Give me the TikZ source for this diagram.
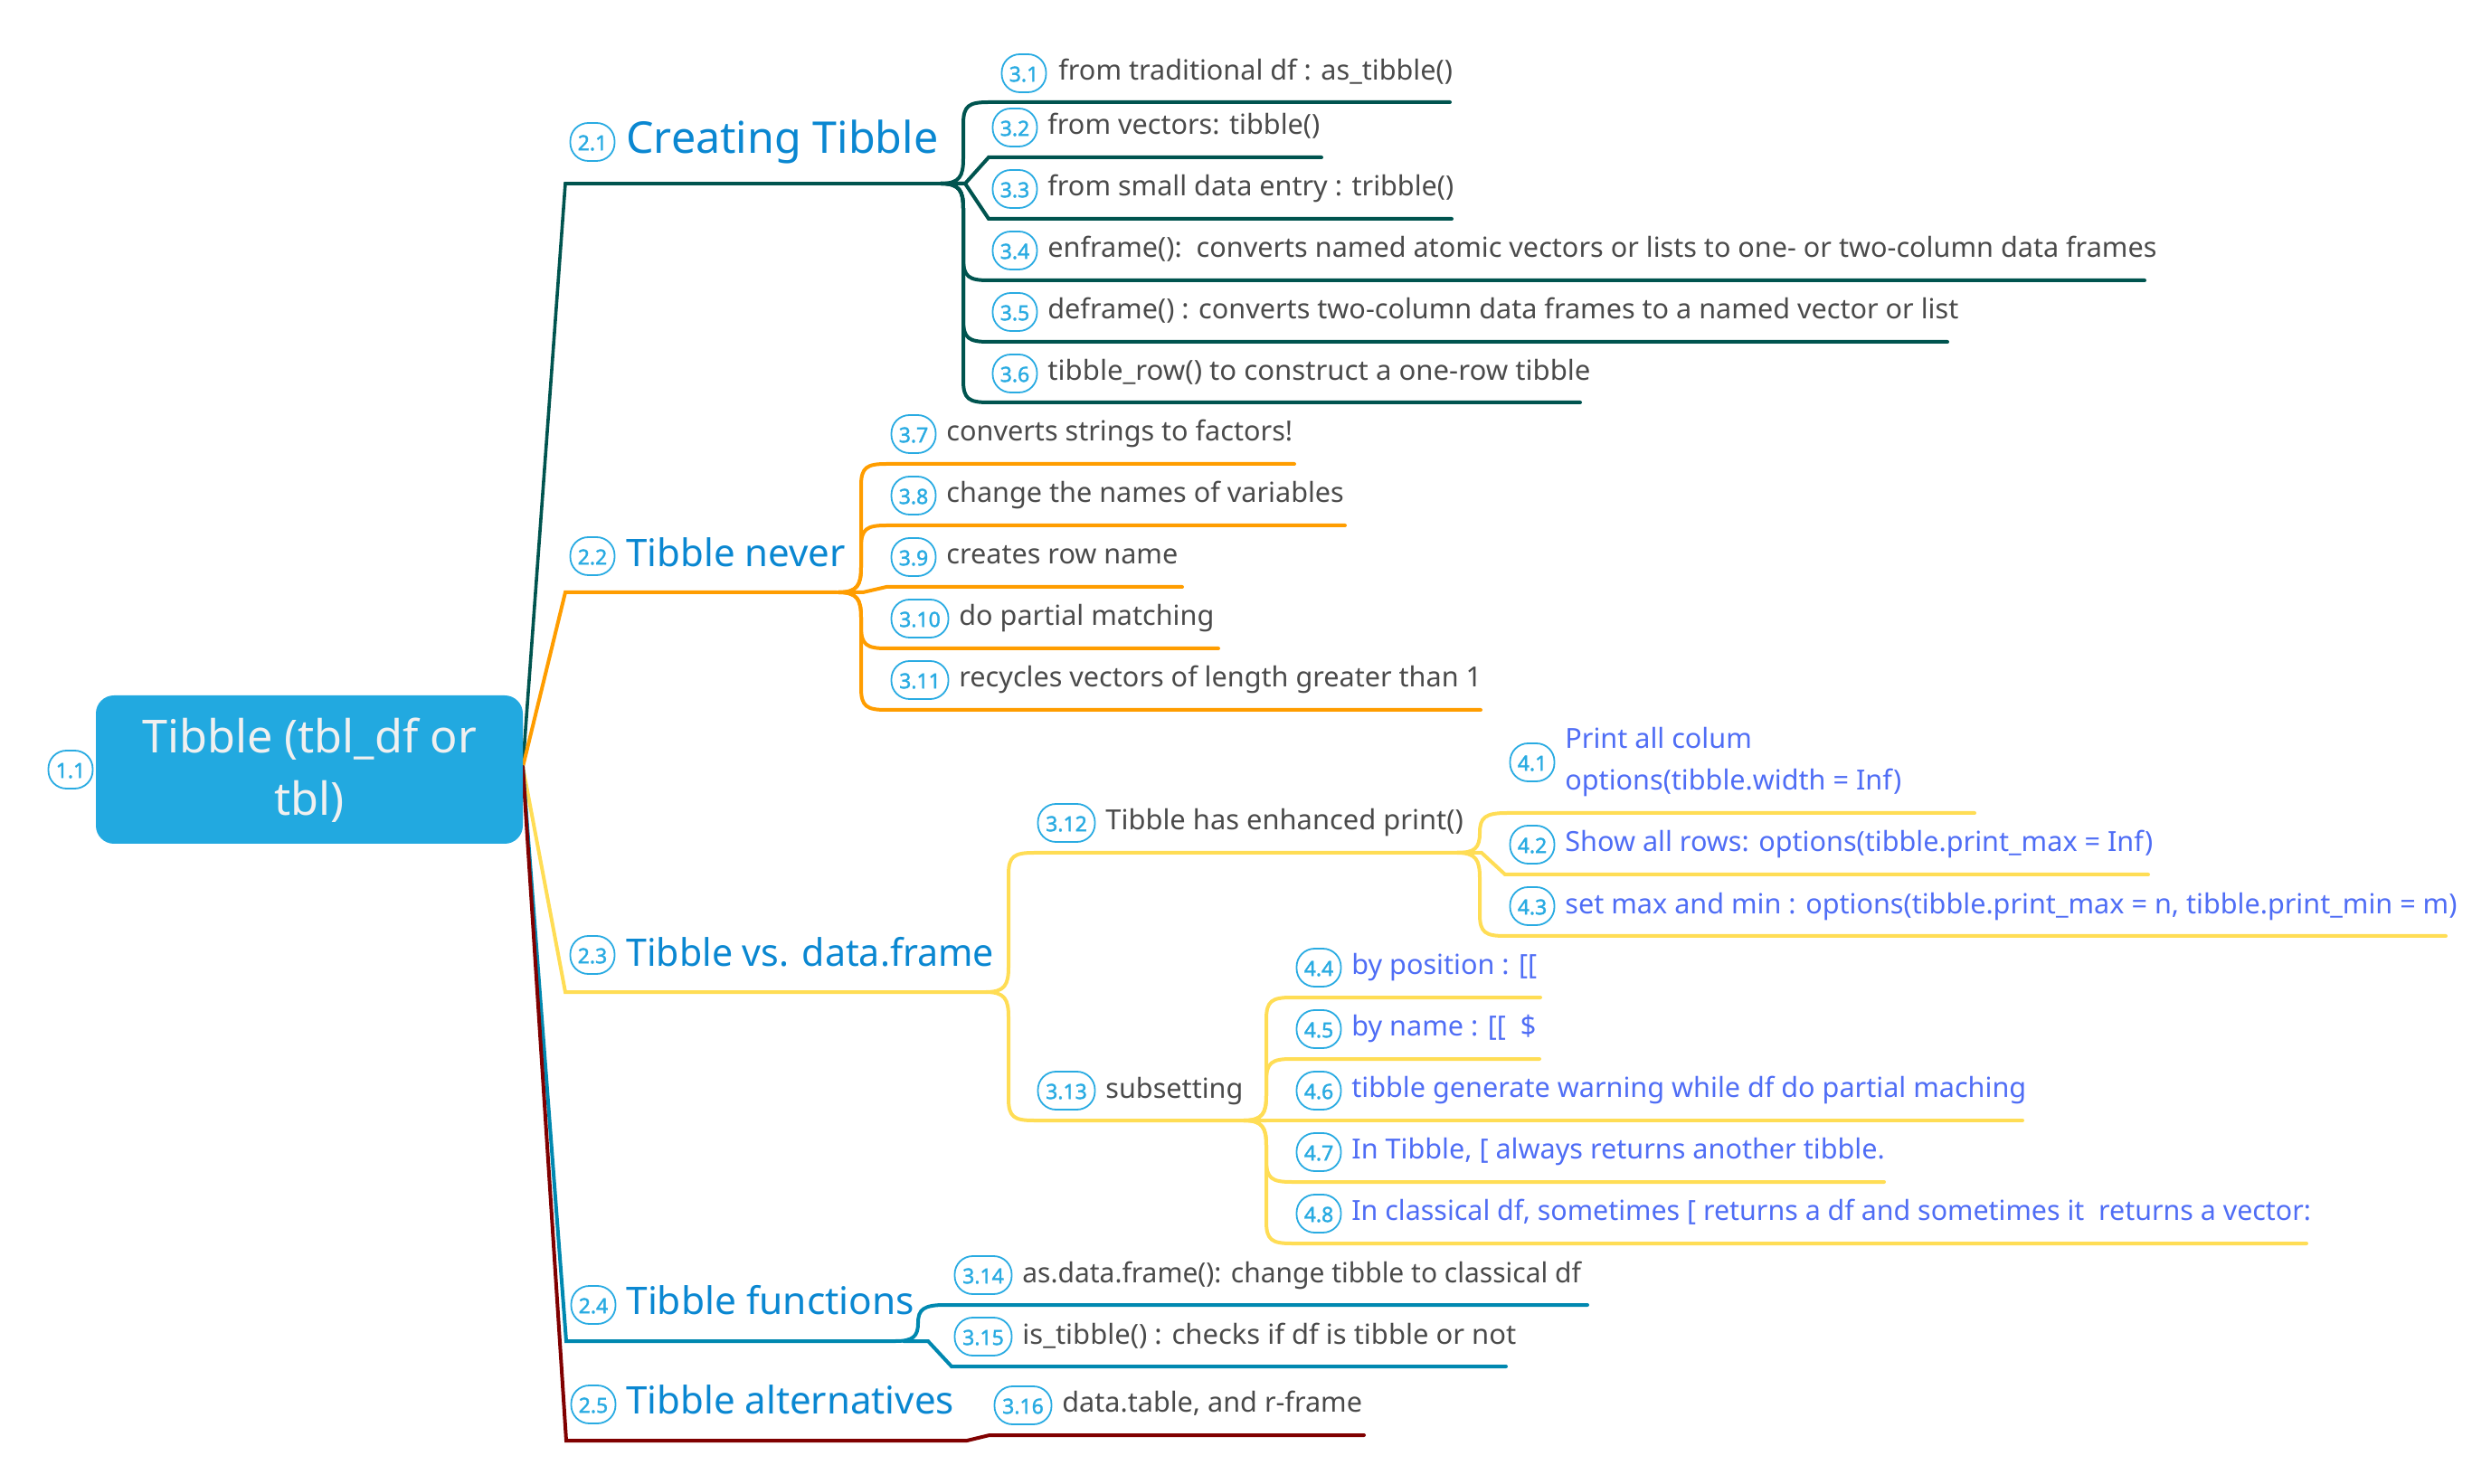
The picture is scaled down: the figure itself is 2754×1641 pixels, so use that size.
\documentclass[tikz,border=0pt]{standalone}
\usepackage{fontspec}
\usepackage{graphicx}
\setmainfont{Noto Sans}
\newfontfamily\badgefont[FakeBold=1.6]{Noto Sans}
\newcommand{\sx}[2]{\scalebox{#1}[1]{#2}}
\definecolor{cgreen}{HTML}{00544F}
\definecolor{corange}{HTML}{FF9D00}
\definecolor{cyellow}{HTML}{FFDD55}
\definecolor{cblue}{HTML}{0088B0}
\definecolor{cred}{HTML}{800000}
\definecolor{ctitle}{HTML}{0A87D1}
\definecolor{cbody}{HTML}{4A4A4A}
\definecolor{cleaf}{HTML}{4F6DF5}
\definecolor{cbadge}{HTML}{29ABE2}
\definecolor{croot}{HTML}{22A9E0}
\tikzset{
  badge/.style={draw=cbadge,line width=0.9pt,fill=white,rounded corners=10pt,minimum height=21pt,inner sep=0pt,
    text=cbadge,font=\badgefont\fontsize{11.5}{12}\selectfont,text height=9.2pt,text depth=0pt,anchor=center},
  bsmall/.style={badge,minimum width=24.5pt},
  bwide/.style={badge,minimum width=31.5pt},
  roottext/.style={fill=croot,rounded corners=10pt,minimum width=236pt,minimum height=82pt,inner sep=0pt},
  titletext/.style={anchor=base west,inner sep=0pt,text=ctitle,font=\fontsize{21}{28}\selectfont},
  bodytext/.style={anchor=base west,inner sep=0pt,text=cbody,font=\fontsize{15.3}{23}\selectfont},
  leaftext/.style={anchor=base west,inner sep=0pt,text=cleaf,font=\fontsize{15.3}{23}\selectfont,align=left},
  link/.style={line width=2pt,line join=miter,line cap=round},
}
% twigs: colour, trunk x, hub y, underline y, end name
\newcommand{\twigup}[5]{\draw[link,#1] (#2-25,#3) .. controls (#2-4,#3) and (#2,#3-8) .. (#2,#3-28) -- (#2,#4+24) .. controls (#2,#4+4) and (#2+6,#4) .. (#2+28,#4) -- (#5);}
\newcommand{\twigdn}[5]{\draw[link,#1] (#2-25,#3) .. controls (#2-4,#3) and (#2,#3+8) .. (#2,#3+28) -- (#2,#4-24) .. controls (#2,#4-4) and (#2+6,#4) .. (#2+28,#4) -- (#5);}
\newcommand{\twigst}[5]{\draw[link,#1] (#2-25,#3) -- (#2+2,#3) -- (#2+28,#4) -- (#5);}
\newcommand{\twigs}[5]{\draw[link,#1] (#2-25,#3) .. controls (#2-6,#3) and (#2,#3-5) .. (#2,#3*0.5+#4*0.5) .. controls (#2,#4+5) and (#2+6,#4) .. (#2+30,#4) -- (#5);}
\begin{document}
\begin{tikzpicture}[x=0.5pt,y=-0.5pt]
\useasboundingbox (0,0) rectangle (2754,1641);
% free ends and hubs
\coordinate (o) at (578,848);
\coordinate (h1) at (625,203);
\coordinate (h2) at (625,655);
\coordinate (h3) at (625,1097);
\coordinate (h4) at (626,1483);
\coordinate (h5) at (626,1593);
\coordinate (h1e) at (1040,203);
\coordinate (h2e) at (925,655);
\coordinate (h3e) at (1090,1097);
\coordinate (h4e) at (990,1483);
\coordinate (h5e) at (1069,1593);
\coordinate (u31) at (1603,113);
\coordinate (u32) at (1461,174);
\coordinate (u33) at (1605,242);
\coordinate (u34) at (2371,310);
\coordinate (u35) at (2153,378);
\coordinate (u36) at (1747,445);
\coordinate (u37) at (1431,513);
\coordinate (u38) at (1487,581);
\coordinate (u39) at (1307,649);
\coordinate (u310) at (1347,717);
\coordinate (u311) at (1637,785);
\coordinate (u312) at (1626,943);
\coordinate (u313) at (1400,1239);
\coordinate (u41) at (2183,899);
\coordinate (u42) at (2375,967);
\coordinate (u43) at (2704,1035);
\coordinate (u44) at (1703,1103);
\coordinate (u45) at (1702,1171);
\coordinate (u46) at (2236,1239);
\coordinate (u47) at (2083,1307);
\coordinate (u48) at (2550,1375);
\coordinate (u314) at (1755,1443);
\coordinate (u315) at (1665,1511);
\coordinate (u316) at (1508,1587);
% main branches
\draw[link,line width=1.8pt,cgreen] (o) -- (h1) -- (h1e);
\draw[link,corange] (o) -- (h2) -- (h2e);
\draw[link,cyellow] (o) -- (h3) -- (h3e);
\draw[link,cblue] (o) -- (h4) -- (h4e);
\draw[link,cred] (o) -- (h5) -- (h5e);
% green
\twigup{cgreen}{1065}{203}{113}{u31}
\twigst{cgreen}{1065}{203}{174}{u32}
\twigst{cgreen}{1065}{203}{242}{u33}
\twigdn{cgreen}{1065}{203}{310}{u34}
\twigdn{cgreen}{1065}{203}{378}{u35}
\twigdn{cgreen}{1065}{203}{445}{u36}
% orange
\twigup{corange}{952}{655}{513}{u37}
\twigup{corange}{952}{655}{581}{u38}
\twigst{corange}{952}{655}{649}{u39}
\twigdn{corange}{952}{655}{717}{u310}
\twigdn{corange}{952}{655}{785}{u311}
% yellow
\twigup{cyellow}{1115}{1097}{943}{u312}
\twigdn{cyellow}{1115}{1097}{1239}{u313}
\twigs{cyellow}{1636}{943}{899}{u41}
\twigst{cyellow}{1636}{943}{967}{u42}
\twigdn{cyellow}{1636}{943}{1035}{u43}
\twigup{cyellow}{1400}{1239}{1103}{u44}
\twigup{cyellow}{1400}{1239}{1171}{u45}
\draw[link,cyellow] (u313) -- (u46);
\twigdn{cyellow}{1400}{1239}{1307}{u47}
\twigdn{cyellow}{1400}{1239}{1375}{u48}
% blue
\twigs{cblue}{1015}{1483}{1443}{u314}
\twigst{cblue}{1024}{1483}{1511}{u315}
% red
\draw[link,cred] (h5e) -- (1094,1587) -- (u316);
% root
\node[roottext] (root) at (342,851) {};
\node[anchor=base,inner sep=0pt,text=white!94!black,align=center,font=\fontsize{25.2}{34.5}\selectfont] (roott) at (342,902) {Tibble (tbl\_df or\\tbl)};
\node[bsmall] (b11) at (78,851) {1.1};
% titles
\node[bsmall] (b21) at (655,157) {2.1};
\node[titletext,font=\fontsize{24.2}{28}\selectfont] (t21) at (692,170) {Creating Tibble};
\node[bsmall] (b22) at (655,615) {2.2};
\node[titletext] (t22) at (692,627) {Tibble never};
\node[bsmall] (b23) at (655,1056) {2.3};
\node[titletext] (t23) at (692,1068) {\sx{0.979}{Tibble vs. data.frame}};
\node[bsmall] (b24) at (656,1443) {2.4};
\node[titletext] (t24) at (692,1453) {\sx{1.011}{Tibble functions}};
\node[bsmall] (b25) at (656,1553) {2.5};
\node[titletext] (t25) at (692,1563) {Tibble alternatives};
% level 3
\node[bsmall] (b31) at (1132,81) {3.1};
\node[bodytext] (t31) at (1170,89) {from traditional df : as\_tibble()};
\node[bsmall] (b32) at (1122,141) {3.2};
\node[bodytext] (t32) at (1158,149) {from vectors: tibble()};
\node[bsmall] (b33) at (1122,209) {3.3};
\node[bodytext] (t33) at (1158,217) {from small data entry : tribble()};
\node[bsmall] (b34) at (1122,277) {3.4};
\node[bodytext] (t34) at (1158,285) {enframe():\ \ converts named atomic vectors or lists to one- or two-column data frames};
\node[bsmall] (b35) at (1122,345) {3.5};
\node[bodytext] (t35) at (1158,353) {deframe() : converts two-column data frames to a named vector or list};
\node[bsmall] (b36) at (1122,413) {3.6};
\node[bodytext] (t36) at (1158,421) {\sx{1.018}{tibble\_row() to construct a one-row tibble}};
\node[bsmall] (b37) at (1010,480) {3.7};
\node[bodytext] (t37) at (1046,488) {converts strings to factors!};
\node[bsmall] (b38) at (1010,548) {3.8};
\node[bodytext] (t38) at (1046,556) {change the names of variables};
\node[bsmall] (b39) at (1010,616) {3.9};
\node[bodytext] (t39) at (1046,624) {creates row name};
\node[bwide] (b310) at (1017,684) {3.10};
\node[bodytext] (t310) at (1060,692) {do partial matching};
\node[bwide] (b311) at (1017,752) {3.11};
\node[bodytext] (t311) at (1060,760) {recycles vectors of length greater than 1};
\node[bwide] (b312) at (1179,910) {3.12};
\node[bodytext] (t312) at (1222,918) {\sx{1.009}{Tibble has enhanced print()}};
\node[bwide] (b313) at (1179,1206) {3.13};
\node[bodytext] (t313) at (1222,1214) {subsetting};
\node[bwide] (b314) at (1087,1410) {3.14};
\node[bodytext] (t314) at (1130,1418) {\sx{0.98}{as.data.frame(): change tibble to classical df}};
\node[bwide] (b315) at (1087,1478) {3.15};
\node[bodytext] (t315) at (1130,1486) {\sx{1.013}{is\_tibble() : checks if df is tibble or not}};
\node[bwide] (b316) at (1131,1554) {3.16};
\node[bodytext] (t316) at (1174,1561) {data.table, and r-frame};
% level 4
\node[bsmall] (b41) at (1694,843) {4.1};
\node[leaftext] (t41) at (1730,874) {Print all colum\\options(tibble.width = Inf)};
\node[bsmall] (b42) at (1694,934) {4.2};
\node[leaftext] (t42) at (1730,942) {Show all rows: options(tibble.print\_max = Inf)};
\node[bsmall] (b43) at (1694,1002) {4.3};
\node[leaftext] (t43) at (1730,1010) {set max and min : options(tibble.print\_max = n, tibble.print\_min = m)};
\node[bsmall] (b44) at (1458,1070) {4.4};
\node[leaftext] (t44) at (1494,1077) {by position : [[};
\node[bsmall] (b45) at (1458,1138) {4.5};
\node[leaftext] (t45) at (1494,1145) {by name : [[\ \ \$};
\node[bsmall] (b46) at (1458,1206) {4.6};
\node[leaftext] (t46) at (1494,1213) {tibble generate warning while df do partial maching};
\node[bsmall] (b47) at (1458,1274) {4.7};
\node[leaftext] (t47) at (1494,1281) {In Tibble, [ always returns another tibble.};
\node[bsmall] (b48) at (1458,1342) {4.8};
\node[leaftext] (t48) at (1494,1349) {\sx{0.9934}{In classical df, sometimes [ returns a df and sometimes it\ \ returns a vector:}};
\end{tikzpicture}
\end{document}
